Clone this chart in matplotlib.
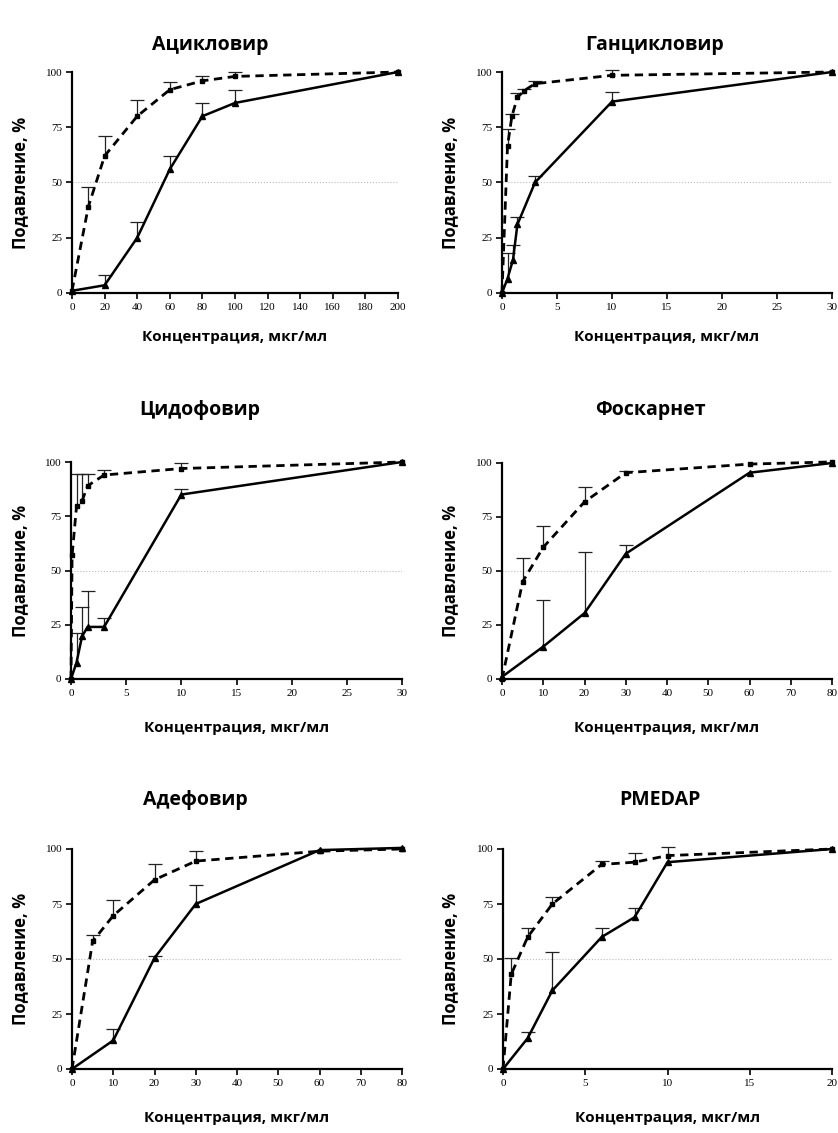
import numpy as np
from matplotlib import pyplot as plt

# panel titles
titles = ["Ацикловир", "Ганцикловир", "Цидофовир", "Фоскарнет", "Адефовир", "PMEDAP"]
xmax = [200, 30, 30, 80, 80, 20]
xstep = [20, 5, 5, 10, 10, 5]

# dashed series (x, y, upper error cap)
dash_x = [
    [0, 10, 20, 40, 60, 80, 100, 200],
    [0, 0.5, 0.9, 1.4, 2, 3, 10, 30],
    [0, 0.1, 0.5, 1, 1.5, 3, 10, 30],
    [0, 5, 10, 20, 30, 60, 80],
    [0, 5, 10, 20, 30, 60, 80],
    [0, 0.5, 1.5, 3, 6, 8, 10, 20],
]
dash_y = [
    [1, 39, 62, 80, 92, 96, 98, 100],
    [0, 66.5, 80, 88.5, 91.5, 94.7, 98.5, 100],
    [0, 57, 79.5, 82, 89, 94, 97, 100],
    [0, 45, 61, 82, 95.5, 99.5, 100.5],
    [0, 58, 69.7, 86, 94.5, 99, 100],
    [0, 43, 60, 75, 93, 94, 97, 100],
]
dash_cap = [
    [1, 48, 71, 87.5, 95.5, 98, 100, 100],
    [0, 74, 81, 90.4, 92.4, 96, 100.7, 100],
    [0, 57, 94.5, 94.5, 94.5, 96.5, 99.5, 100],
    [0, 56, 71, 89, 96.5, 99.5, 100.5],
    [0, 61, 77, 93, 99, 99, 100],
    [0, 50.4, 64, 78, 94.5, 98, 100.7, 100],
]

# solid series
sol_x = [
    [0, 20, 40, 60, 80, 100, 200],
    [0, 0.5, 1, 1.4, 3, 10, 30],
    [0, 0.5, 1, 1.5, 3, 10, 30],
    [0, 10, 20, 30, 60, 80],
    [0, 10, 20, 30, 60, 80],
    [0, 1.5, 3, 6, 8, 10, 20],
]
sol_y = [
    [1, 3.5, 25, 56, 80, 86, 100],
    [0, 6.5, 15, 31, 50, 86.6, 100],
    [0, 7.6, 19.6, 24, 24, 85, 100],
    [1, 15, 30.5, 58, 95.5, 100],
    [0, 13, 50.5, 75, 99.5, 100.5],
    [0, 14, 35.7, 60, 69, 94, 100],
]
sol_cap = [
    [1, 8, 32, 62, 86, 92, 100],
    [0, 18, 21.5, 34.6, 53, 91, 100],
    [0, 21, 33.4, 40.6, 28, 87.4, 100],
    [1, 36.6, 59, 62, 95.5, 100],
    [0, 18, 51.5, 83.5, 99.5, 100.5],
    [0, 17, 53, 64, 73, 94, 100],
]

W, H = 838, 1133
fig = plt.figure(figsize=(W / 100, H / 100), dpi=100)

# pixel boxes (left, right, top, bottom)
boxes = [
    (72, 398, 72, 293), (502, 832, 72, 293),
    (71, 402, 462, 679), (502, 832, 463, 679),
    (72, 402, 849, 1069), (503, 832, 849, 1069),
]
title_pos = [(210, 45), (655, 45), (200, 410), (650, 410), (195, 800), (660, 800)]
xlab_y = [337, 337, 728, 728, 1118, 1118]
ylab_x = [20, 450, 20, 450, 20, 450]

label_font = "Open Sans"


def up_errors(ax, x, y, cap):
    # only the upper half of each error bar, with a cap
    x, y, cap = np.array(x), np.array(y), np.array(cap)
    m = cap > y + 0.3
    ax.vlines(x[m], y[m], cap[m], color="#222222", lw=0.9, clip_on=False)
    ax.plot(x[m], cap[m], ls="none", marker="_", ms=10, mew=0.9,
            color="#222222", clip_on=False)


for i in range(6):
    l, r, t, b = boxes[i]
    ax = fig.add_axes([l / W, 1 - b / H, (r - l) / W, (b - t) / H])
    ax.set_xlim(0, xmax[i])
    ax.set_ylim(0, 100)
    ax.axhline(50, color="#bbbbbb", lw=0.8, ls=":", zorder=0)

    up_errors(ax, dash_x[i], dash_y[i], dash_cap[i])
    up_errors(ax, sol_x[i], sol_y[i], sol_cap[i])
    ax.plot(dash_x[i], dash_y[i], color="black", lw=2, ls=(0, (3, 2)),
            marker="s", ms=3.5, clip_on=False)
    ax.plot(sol_x[i], sol_y[i], color="black", lw=1.8, ls="-", marker="^",
            ms=4, clip_on=False)

    ax.spines["top"].set_visible(False)
    ax.spines["right"].set_visible(False)
    ax.spines["left"].set_linewidth(1.6)
    ax.spines["bottom"].set_linewidth(1.6)
    ax.set_xticks(np.arange(0, xmax[i] + 0.1, xstep[i]))
    ax.set_yticks([0, 25, 50, 75, 100])
    ax.tick_params(direction="out", length=4, width=1.2, pad=3)
    for lab in ax.get_xticklabels() + ax.get_yticklabels():
        lab.set_fontfamily("Liberation Serif")
        lab.set_fontsize(8)

    fig.text(title_pos[i][0] / W, 1 - title_pos[i][1] / H, titles[i],
             ha="center", va="center", fontsize=14, fontweight="bold",
             family=label_font)
    fig.text((l + r) / 2 / W, 1 - xlab_y[i] / H, "Концентрация, мкг/мл",
             ha="center", va="center", fontsize=11, fontweight="bold",
             family=label_font)
    fig.text(ylab_x[i] / W, 1 - (t + b) / 2 / H, "Подавление, %",
             ha="center", va="center", rotation=90, fontsize=12,
             fontweight="bold", family=label_font)

fig.savefig("out.png", dpi=100)
